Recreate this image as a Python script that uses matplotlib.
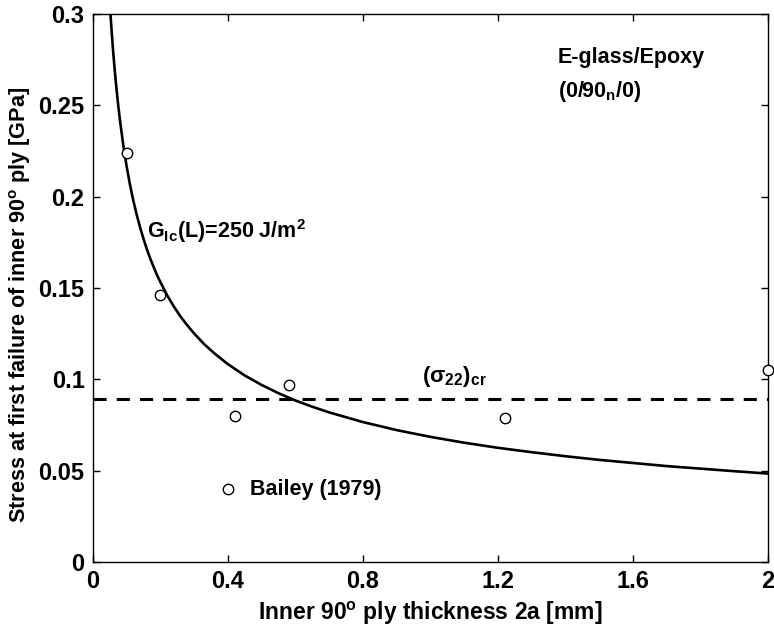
import matplotlib
matplotlib.use("Agg")
import matplotlib.pyplot as plt

plt.rcParams["font.family"] = ["Liberation Sans", "DejaVu Sans"]
plt.rcParams["font.weight"] = "bold"
plt.rcParams["axes.labelweight"] = "bold"
plt.rcParams["mathtext.fontset"] = "custom"
plt.rcParams["mathtext.rm"] = "Liberation Sans:bold"
plt.rcParams["mathtext.it"] = "Liberation Sans:bold"
plt.rcParams["mathtext.bf"] = "Liberation Sans:bold"
plt.rcParams["mathtext.sf"] = "Liberation Sans:bold"

# Theoretical first-failure stress vs. inner 90-degree ply thickness
curve_x = [0.052, 0.055, 0.060, 0.065, 0.070, 0.075, 0.080, 0.090, 0.100,
           0.110, 0.120, 0.130, 0.140, 0.150, 0.160, 0.170, 0.180, 0.190,
           0.200, 0.220, 0.240, 0.260, 0.280, 0.300, 0.330, 0.360, 0.400,
           0.450, 0.500, 0.550, 0.600, 0.650, 0.700, 0.800, 0.900, 1.000,
           1.100, 1.200, 1.300, 1.400, 1.500, 1.600, 1.700, 1.800, 1.900,
           2.000]
curve_y = [0.3000, 0.2921, 0.2796, 0.2687, 0.2589, 0.2501, 0.2422, 0.2283,
           0.2166, 0.2065, 0.1977, 0.1900, 0.1831, 0.1769, 0.1712, 0.1661,
           0.1615, 0.1571, 0.1532, 0.1460, 0.1398, 0.1343, 0.1295, 0.1251,
           0.1192, 0.1142, 0.1083, 0.1021, 0.0969, 0.0924, 0.0884, 0.0850,
           0.0819, 0.0766, 0.0722, 0.0685, 0.0653, 0.0625, 0.0601, 0.0579,
           0.0559, 0.0542, 0.0525, 0.0511, 0.0497, 0.0484]

# Critical transverse stress
sigma_cr = 0.089

# Experimental data, Bailey (1979)
exp_x = [0.10, 0.20, 0.42, 0.58, 1.22, 2.00]
exp_y = [0.224, 0.146, 0.080, 0.097, 0.079, 0.105]

x_ticks = [0, 0.4, 0.8, 1.2, 1.6, 2.0]
x_labels = ["0", "0.4", "0.8", "1.2", "1.6", "2"]
y_ticks = [0, 0.05, 0.1, 0.15, 0.2, 0.25, 0.3]
y_labels = ["0", "0.05", "0.1", "0.15", "0.2", "0.25", "0.3"]

fig = plt.figure(figsize=(7.74, 6.35), dpi=100)
ax = fig.add_axes([0.120, 0.115, 0.872, 0.863])

ax.plot(curve_x, curve_y, color="black", lw=1.9, solid_joinstyle="round")
ax.axhline(sigma_cr, color="black", lw=2.2, dashes=(4.3, 3.3))
ax.plot(exp_x, exp_y, linestyle="none", marker="o", ms=7.5, mfc="white",
        mec="black", mew=1.0, clip_on=False, zorder=5)

# In-axes legend entry
ax.plot([0.40], [0.040], linestyle="none", marker="o", ms=7.5, mfc="white",
        mec="black", mew=1.0)
ax.text(0.465, 0.0367, "Bailey (1979)", fontsize=15.5, va="baseline", ha="left")

ax.text(1.378, 0.2731, "E-glass/Epoxy", fontsize=15.5, va="baseline", ha="left")
ax.text(1.378, 0.2545, r"(0/90$_\mathrm{n}$/0)", fontsize=15.5, va="baseline",
        ha="left")
ax.text(0.160, 0.1773, r"G$_\mathrm{Ic}$(L)=250 J/m$^\mathrm{2}$", fontsize=15.5,
        va="baseline", ha="left")
ax.text(0.975, 0.0985, r"(σ$_\mathrm{22}$)$_\mathrm{cr}$", fontsize=16,
        va="baseline", ha="left")

ax.set_xlim(0, 2)
ax.set_ylim(0, 0.3)
ax.set_xticks(x_ticks)
ax.set_xticklabels(x_labels)
ax.set_yticks(y_ticks)
ax.set_yticklabels(y_labels)
ax.tick_params(direction="in", length=5, width=1, top=True, right=True,
               labelsize=17, pad=6)
for s in ax.spines.values():
    s.set_linewidth(1.0)

ax.set_xlabel(r"Inner 90$^\mathrm{o}$ ply thickness 2a [mm]", fontsize=16.5,
              labelpad=5)
ax.set_ylabel(r"Stress at first failure of inner 90$^\mathrm{o}$ ply [GPa]",
              fontsize=15.6, labelpad=4)
ax.yaxis.set_label_coords(-0.088, 0.470)

fig.savefig("out.png", dpi=100)
